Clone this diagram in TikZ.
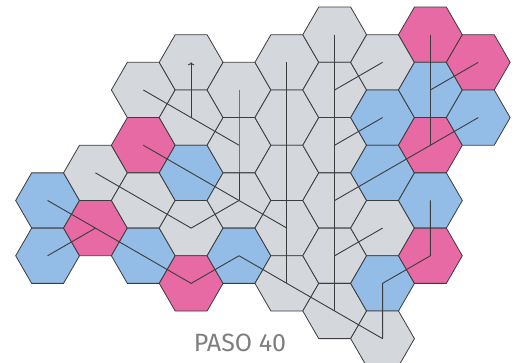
\documentclass[tikz,border=0pt]{standalone}
\usepackage{fontspec}
\setmainfont{Fira Sans}
\usepackage{xcolor}
\usepackage{tikz}
\usetikzlibrary{arrows.meta,shapes.geometric}
\definecolor{cellgray}{HTML}{D4D7DC}
\definecolor{cellblue}{HTML}{93BCE6}
\definecolor{cellpink}{HTML}{E86AA4}
\definecolor{edgedark}{HTML}{3C3C3C}
\definecolor{labelgray}{HTML}{7E7E7E}

\begin{document}
\begin{tikzpicture}[
  x=47.85pt, y=-27.63pt,
  hex/.style={draw=edgedark, line width=0.8pt, regular polygon, regular polygon sides=6, minimum size=63.8pt, inner sep=0pt, outer sep=0pt},
  g/.style={hex, fill=cellgray},
  b/.style={hex, fill=cellblue},
  p/.style={hex, fill=cellpink},
  link/.style={draw=edgedark, line width=0.9pt, line join=round},
  arr/.style={link, -{To[length=3pt, width=6.5pt]}}
]
\useasboundingbox (-47.6pt,7.07pt) rectangle (472.4pt,-354.93pt);
\node[b] (c0r7) at (0,7) {};
\node[b] (c0r9) at (0,9) {};
\node[g] (c1r6) at (1,6) {};
\node[p] (c1r8) at (1,8) {};
\node[g] (c2r3) at (2,3) {};
\node[p] (c2r5) at (2,5) {};
\node[g] (c2r7) at (2,7) {};
\node[b] (c2r9) at (2,9) {};
\node[g] (c3r2) at (3,2) {};
\node[g] (c3r4) at (3,4) {};
\node[b] (c3r6) at (3,6) {};
\node[g] (c3r8) at (3,8) {};
\node[p] (c3r10) at (3,10) {};
\node[g] (c4r3) at (4,3) {};
\node[g] (c4r5) at (4,5) {};
\node[g] (c4r7) at (4,7) {};
\node[b] (c4r9) at (4,9) {};
\node[g] (c5r2) at (5,2) {};
\node[g] (c5r4) at (5,4) {};
\node[g] (c5r6) at (5,6) {};
\node[g] (c5r8) at (5,8) {};
\node[g] (c5r10) at (5,10) {};
\node[g] (c6r1) at (6,1) {};
\node[g] (c6r3) at (6,3) {};
\node[g] (c6r5) at (6,5) {};
\node[g] (c6r7) at (6,7) {};
\node[g] (c6r9) at (6,9) {};
\node[g] (c6r11) at (6,11) {};
\node[g] (c7r2) at (7,2) {};
\node[b] (c7r4) at (7,4) {};
\node[b] (c7r6) at (7,6) {};
\node[g] (c7r8) at (7,8) {};
\node[b] (c7r10) at (7,10) {};
\node[g] (c7r12) at (7,12) {};
\node[p] (c8r1) at (8,1) {};
\node[b] (c8r3) at (8,3) {};
\node[p] (c8r5) at (8,5) {};
\node[b] (c8r7) at (8,7) {};
\node[p] (c8r9) at (8,9) {};
\node[p] (c9r2) at (9,2) {};
\node[b] (c9r4) at (9,4) {};
\draw[arr] (c3r4.center) -- (c3r2.center);
\draw[link] (c2r3.center) -- (c3r4.center) -- (c4r5.center);
\draw[link] (c4r3.center) -- (c4r5.center) -- (c4r7.center);
\draw[link] (c2r5.center) -- (c3r6.center) -- (c4r7.center);
\draw[link] (c1r6.center) -- (c2r7.center) -- (c3r8.center) -- (c4r7.center) -- (c5r8.center);
\draw[link] (c0r7.center) -- (c1r8.center) -- (c2r9.center) -- (c3r10.center) -- (c4r9.center) -- (c5r10.center) -- (c6r11.center) -- (c7r12.center);
\draw[link] (c0r9.center) -- (c1r8.center);
\draw[link] (c5r2.center) -- (c5r10.center);
\draw[link] (c6r1.center) -- (c6r11.center);
\draw[link] (c6r3.center) -- (c7r2.center);
\draw[link] (c6r5.center) -- (c7r4.center);
\draw[link] (c9r4.center) -- (c8r5.center) -- (c7r6.center) -- (c6r7.center);
\draw[link] (c6r9.center) -- (c7r8.center);
\draw[link] (c8r1.center) -- (c8r5.center);
\draw[link] (c8r3.center) -- (c9r2.center);
\draw[link] (c8r7.center) -- (c8r9.center) -- (c7r10.center) -- (c7r12.center);
\node[text=labelgray, font=\fontsize{25}{30}\selectfont] (step) at (4.02,12.14) {PASO 40};
\end{tikzpicture}
\end{document}
